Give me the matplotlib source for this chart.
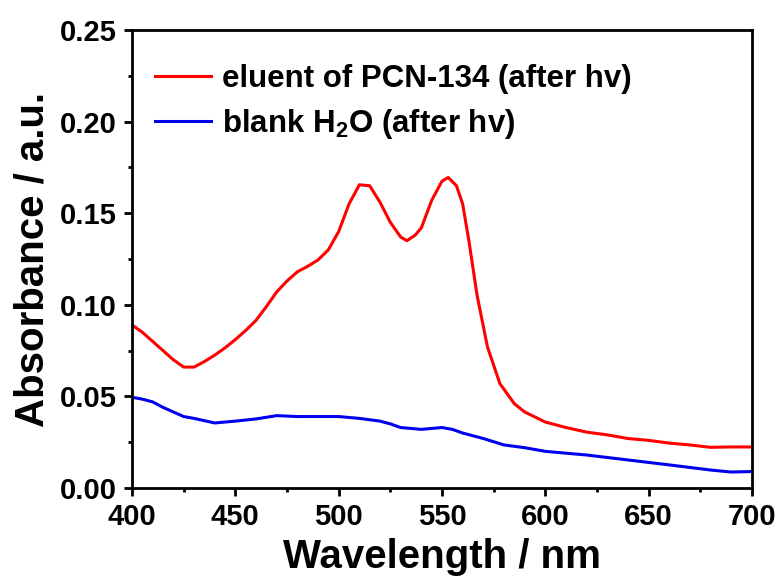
import matplotlib
matplotlib.use("Agg")
import matplotlib.pyplot as plt
from matplotlib.ticker import MultipleLocator
import numpy as np

plt.rcParams['font.family'] = 'Liberation Sans'
plt.rcParams['font.weight'] = 'bold'
plt.rcParams['mathtext.fontset'] = 'custom'
plt.rcParams['mathtext.rm'] = 'Liberation Sans:bold'
plt.rcParams['mathtext.bf'] = 'Liberation Sans:bold'
plt.rcParams['mathtext.default'] = 'bf'

# eluent of PCN-134 (after hv)
red_wl = [400, 405, 410, 415, 420, 425, 430, 435, 440, 445, 450, 455, 460, 465, 470,
          475, 480, 485, 490, 495, 500, 505, 510, 515, 520, 525, 530, 533, 537, 540,
          545, 550, 553, 557, 560, 563, 567, 572, 578, 585, 590, 600, 610, 620, 630,
          640, 650, 660, 670, 680, 690, 700]
red_abs = [0.089, 0.085, 0.080, 0.075, 0.070, 0.0660, 0.0660, 0.069, 0.0725, 0.0765, 0.081, 0.086, 0.0915, 0.099, 0.107,
           0.113, 0.118, 0.121, 0.1245, 0.130, 0.140, 0.155, 0.1655, 0.165, 0.156, 0.145, 0.137, 0.135, 0.138, 0.142,
           0.157, 0.1675, 0.1695, 0.165, 0.155, 0.135, 0.105, 0.077, 0.057, 0.046, 0.0415, 0.036, 0.033, 0.0305, 0.029,
           0.027, 0.026, 0.0245, 0.0235, 0.0222, 0.0224, 0.0224]

# blank H2O (after hv)
blue_wl = [400, 405, 410, 415, 420, 425, 430, 440, 450, 460, 470, 480, 490, 500, 510,
           520, 525, 530, 540, 550, 555, 560, 570, 580, 590, 600, 620, 640, 660, 680,
           690, 700]
blue_abs = [0.0495, 0.0485, 0.047, 0.044, 0.0415, 0.039, 0.038, 0.0355, 0.0365, 0.0377, 0.0395, 0.039, 0.039, 0.039, 0.038,
            0.0365, 0.035, 0.033, 0.032, 0.033, 0.032, 0.030, 0.027, 0.0235, 0.022, 0.020, 0.018, 0.0153, 0.0126, 0.0098,
            0.0087, 0.009]

fig = plt.figure(figsize=(7.83, 5.84), dpi=100)
ax = fig.add_axes([0.1686, 0.1644, 0.7918, 0.7842])

ax.plot(red_wl, red_abs, color='#ff0000', lw=2.2, label='eluent of PCN-134 (after hv)')
ax.plot(blue_wl, blue_abs, color='#0000ee', lw=2.2, label=r'blank H$_\mathbf{2}$O (after hv)')

ax.set_xlim(400, 700)
ax.set_ylim(0, 0.25)
ax.xaxis.set_major_locator(MultipleLocator(50))
ax.xaxis.set_minor_locator(MultipleLocator(25))
ax.yaxis.set_major_locator(MultipleLocator(0.05))
ax.yaxis.set_minor_locator(MultipleLocator(0.025))
ax.yaxis.set_major_formatter(plt.FormatStrFormatter('%.2f'))

for s in ax.spines.values():
    s.set_linewidth(2.0)
ax.tick_params(which='both', direction='out', width=2.0, labelsize=21, top=False, right=False)
ax.tick_params(which='major', length=6, pad=5)
ax.tick_params(which='minor', length=3)

ax.set_xlabel('Wavelength / nm', fontsize=29, fontweight='bold', labelpad=5)
ax.set_ylabel('Absorbance / a.u.', fontsize=29, fontweight='bold', labelpad=6)

ax.legend(loc='upper left', bbox_to_anchor=(0.037, 0.926), frameon=False, fontsize=22.5,
          handlelength=1.8, handletextpad=0.35, labelspacing=0.42, borderaxespad=0, borderpad=0)

fig.savefig('out.png', dpi=100)
